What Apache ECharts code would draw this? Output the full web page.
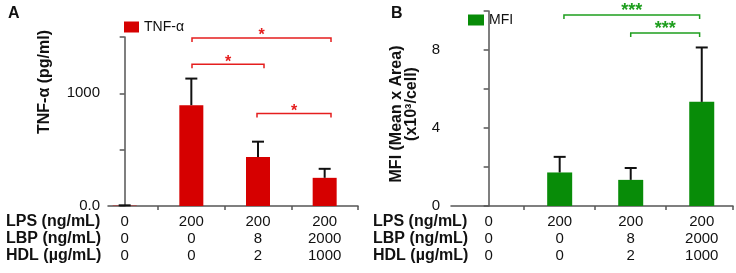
<!DOCTYPE html>
<html><head><meta charset="utf-8">
<script src="https://cdn.jsdelivr.net/npm/echarts@6/dist/echarts.min.js"></script>
<style>html,body{margin:0;padding:0;background:#fff}#c{width:736px;height:273px}</style>
</head><body><div id="c"></div>
<script>
// ---- data ----
const lpsRow = ['0', '200', '200', '200'];
const lbpRow = ['0', '0', '8', '2000'];
const hdlRow = ['0', '0', '2', '1000'];
const rowLabels = ['LPS (ng/mL)', 'LBP (ng/mL)', 'HDL (µg/mL)'];
const tnfMean = [3, 895, 435, 250];
const tnfSd = [3, 236, 136, 80];
const mfiMean = [0, 1.72, 1.34, 5.34];
const mfiSd = [0, 0.80, 0.61, 2.79];
const yTickValsA = [0, 1000];
const yTickTextA = ['0.0', '1000'];
const yTickValsB = [0, 4, 8];
const yTickTextB = ['0', '4', '8'];
const bracketsA = [[1.01, 3.095, 1491], [1.01, 2.09, 1259], [1.985, 3.095, 821]];
const bracketLabelsA = ['*', '*', '*'];
const bracketsB = [[1.06, 2.97, 9.79], [2.0, 2.97, 8.87]];
const bracketLabelsB = ['***', '***'];

const FONT = 'Arial, "Liberation Sans", sans-serif';
const RED = '#d60000', GREEN = '#088c08';
const RED_BR = '#e51e1e', GREEN_BR = '#1e9e1e';
const AX = '#555';

function xLabel(v) {
  const i = Math.round(v);
  return lpsRow[i] + '\n' + lbpRow[i] + '\n' + hdlRow[i];
}
function errRender(params, api) {
  const x = api.value(0), m = api.value(1), s = api.value(2);
  if (!(s > 0)) return null;
  const b = api.coord([x, m]), t = api.coord([x, m + s]);
  return { type: 'group', children: [
    { type: 'line', shape: { x1: b[0], y1: b[1], x2: t[0], y2: t[1] }, style: { stroke: '#111', lineWidth: 2 } },
    { type: 'line', shape: { x1: t[0] - 6, y1: t[1], x2: t[0] + 6, y2: t[1] }, style: { stroke: '#111', lineWidth: 2 } }
  ] };
}
function bracketRender(labels, color, fontSize, dy) {
  return function (params, api) {
    const p1 = api.coord([api.value(0), api.value(2)]);
    const p2 = api.coord([api.value(1), api.value(2)]);
    return { type: 'group', children: [
      { type: 'polyline', shape: { points: [[p1[0], p1[1] + 4], [p1[0], p1[1]], [p2[0], p2[1]], [p2[0], p2[1] + 4]] },
        style: { stroke: color, lineWidth: 1.5, fill: null } },
      { type: 'text', x: (p1[0] + p2[0]) / 2, y: p1[1] - dy,
        style: { text: labels[params.dataIndex], fill: color, font: 'bold ' + fontSize + 'px ' + FONT, align: 'center', verticalAlign: 'middle' } }
    ] };
  };
}
function yAxisCfg(grid, max, interval, vals, texts, margin) {
  return {
    gridIndex: grid, type: 'value', min: 0, max: max, interval: interval,
    axisLine: { show: true, lineStyle: { color: AX, width: 1.5 } },
    axisTick: { show: true, length: 5, lineStyle: { color: AX, width: 1.5 } },
    splitLine: { show: false },
    axisLabel: { margin: margin, fontSize: 15, color: '#111', fontFamily: FONT,
      formatter: v => { const k = vals.indexOf(v); return k >= 0 ? texts[k] : ''; } }
  };
}
function xAxisCfg(grid, min, max, ticks) {
  return {
    gridIndex: grid, type: 'value', min: min, max: max,
    axisLine: { show: true, onZero: false, lineStyle: { color: AX, width: 1.5 } },
    axisTick: { show: true, length: 4, customValues: ticks, lineStyle: { color: AX, width: 1.5 } },
    splitLine: { show: false },
    axisLabel: { customValues: [0, 1, 2, 3], formatter: xLabel, margin: 7, lineHeight: 17,
      fontSize: 15, color: '#111', fontFamily: FONT }
  };
}

const chart = echarts.init(document.getElementById('c'), null, { renderer: 'canvas' });
chart.setOption({
  animation: false,
  backgroundColor: '#fff',
  grid: [
    { left: 108, top: 37, width: 250, height: 169, outerBoundsMode: 'none' },
    { left: 451, top: 11, width: 282, height: 195, outerBoundsMode: 'none' }
  ],
  xAxis: [xAxisCfg(0, -0.25, 3.5, [0.5, 1.5, 2.5, 3.5]), xAxisCfg(1, -0.53, 3.44, [0.5, 1.5, 2.5, 3.44])],
  yAxis: [yAxisCfg(0, 1500, 500, yTickValsA, yTickTextA, 8), yAxisCfg(1, 10, 2, yTickValsB, yTickTextB, 11)],
  legend: [
    { data: ['TNF-α'], left: 124, top: 20, padding: 0, itemWidth: 15, itemHeight: 11, icon: 'rect',
      textStyle: { fontSize: 14, color: '#111', fontFamily: FONT } },
    { data: ['MFI'], left: 468, top: 13, padding: 0, itemWidth: 16, itemHeight: 11, icon: 'rect',
      textStyle: { fontSize: 14, color: '#111', fontFamily: FONT } }
  ],
  series: [
    { name: 'TNF-α', type: 'bar', xAxisIndex: 0, yAxisIndex: 0, barWidth: 24,
      itemStyle: { color: RED }, data: tnfMean.map((v, i) => [i, v]) },
    { name: 'errA', type: 'custom', xAxisIndex: 0, yAxisIndex: 0, renderItem: errRender,
      encode: { x: 0, y: 1 }, data: tnfMean.map((v, i) => [i, v, tnfSd[i]]), z: 3 },
    { name: 'brA', type: 'custom', xAxisIndex: 0, yAxisIndex: 0, renderItem: bracketRender(bracketLabelsA, RED_BR, 16, 2),
      encode: { x: [0, 1], y: 2 }, data: bracketsA, z: 4 },
    { name: 'MFI', type: 'bar', xAxisIndex: 1, yAxisIndex: 1, barWidth: 25,
      itemStyle: { color: GREEN }, data: mfiMean.map((v, i) => [i, v]) },
    { name: 'errB', type: 'custom', xAxisIndex: 1, yAxisIndex: 1, renderItem: errRender,
      encode: { x: 0, y: 1 }, data: mfiMean.map((v, i) => [i, v, mfiSd[i]]), z: 3 },
    { name: 'brB', type: 'custom', xAxisIndex: 1, yAxisIndex: 1, renderItem: bracketRender(bracketLabelsB, GREEN_BR, 18, 4),
      encode: { x: [0, 1], y: 2 }, data: bracketsB, z: 4 }
  ],
  graphic: [
    { type: 'text', left: 8, top: 6, style: { text: 'A', font: 'bold 16px ' + FONT, fill: '#111' } },
    { type: 'text', left: 391, top: 6, style: { text: 'B', font: 'bold 16px ' + FONT, fill: '#111' } },
    { type: 'text', x: 45, y: 82, rotation: Math.PI / 2,
      style: { text: 'TNF-α (pg/ml)', font: 'bold 16px ' + FONT, fill: '#111', align: 'center', verticalAlign: 'middle' } },
    { type: 'text', x: 397, y: 114, rotation: Math.PI / 2,
      style: { text: 'MFI (Mean x Area)', font: 'bold 16px ' + FONT, fill: '#111', align: 'center', verticalAlign: 'middle' } },
    { type: 'text', x: 412, y: 104, rotation: Math.PI / 2,
      style: { text: '(x10³/cell)', font: 'bold 16px ' + FONT, fill: '#111', align: 'center', verticalAlign: 'middle' } },
    { type: 'text', x: 6, y: 213, style: { text: rowLabels.join('\n'), font: 'bold 16px ' + FONT, lineHeight: 17, fill: '#111', verticalAlign: 'top' } },
    { type: 'text', x: 373, y: 213, style: { text: rowLabels.join('\n'), font: 'bold 16px ' + FONT, lineHeight: 17, fill: '#111', verticalAlign: 'top' } }
  ]
});
</script></body></html>
